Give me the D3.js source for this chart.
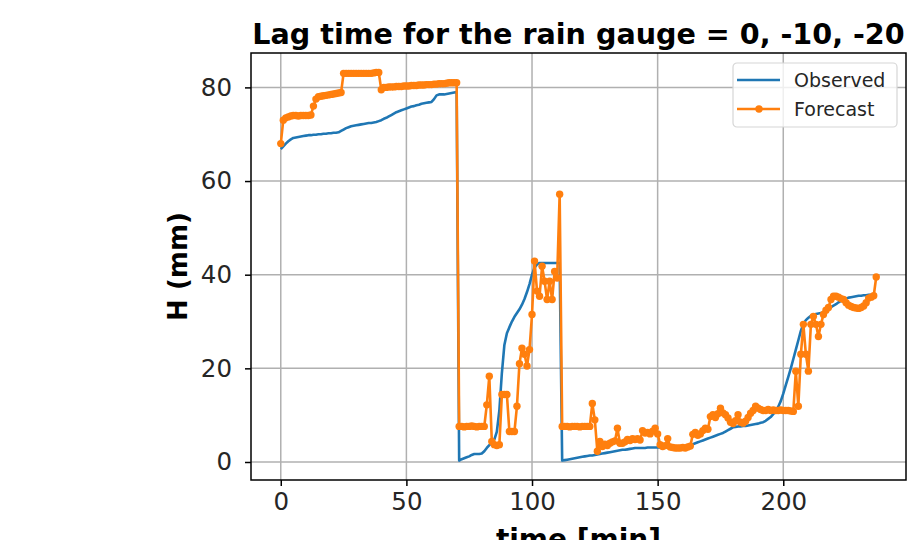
<!DOCTYPE html>
<html>
<head>
<meta charset="utf-8">
<script src="https://cdn.jsdelivr.net/npm/d3@7"></script>
<style>
  html, body { margin: 0; padding: 0; background: #fff; }
  svg { display: block; font-family: "DejaVu Sans", Verdana, sans-serif; }
</style>
</head>
<body>
<svg id="chart" width="909" height="540"></svg>
<script>
var title = 'Lag time for the rain gauge = 0, -10, -20';
var xLabel = 'time [min]';
var yLabel = 'H (mm)';
var seriesNames = ['Observed', 'Forecast'];
var xTicks = [0, 50, 100, 150, 200];
var yTicks = [0, 20, 40, 60, 80];

// one value per minute, t = 0 .. 237
var observed = [
  66.8, 67.4, 68.0, 68.5, 68.9, 69.2, 69.3, 69.4, 69.5, 69.6,
  69.7, 69.8, 69.8, 69.9, 69.9, 70.0, 70.0, 70.1, 70.1, 70.2,
  70.2, 70.3, 70.3, 70.4, 70.7, 71.0, 71.3, 71.5, 71.7, 71.8,
  71.9, 72.0, 72.1, 72.2, 72.3, 72.4, 72.4, 72.5, 72.6, 72.8,
  73.0, 73.3, 73.5, 73.8, 74.1, 74.4, 74.7, 74.9, 75.1, 75.3,
  75.5, 75.7, 75.9, 76.0, 76.2, 76.3, 76.5, 76.6, 76.7, 76.8,
  76.9, 77.5, 78.3, 78.5, 78.5, 78.5, 78.6, 78.7, 78.8, 78.9,
  79.0, 0.3, 0.6, 0.8, 1.0, 1.2, 1.5, 1.7, 1.7, 1.7,
  1.8, 2.3, 3.0, 3.6, 4.1, 4.8, 6.5, 11.0, 19.0, 25.0,
  27.5, 28.8, 30.0, 31.0, 31.8, 32.6, 33.6, 34.8, 36.3, 38.0,
  40.0, 41.5, 42.2, 42.5, 42.5, 42.5, 42.5, 42.5, 42.5, 42.5,
  42.5, 42.5, 0.3, 0.4, 0.5, 0.6, 0.7, 0.8, 0.9, 1.0,
  1.1, 1.2, 1.3, 1.4, 1.4, 1.5, 1.6, 1.7, 1.8, 1.9,
  2.0, 2.1, 2.2, 2.3, 2.4, 2.5, 2.6, 2.6, 2.7, 2.8,
  2.9, 3.0, 3.0, 3.0, 3.0, 3.0, 3.1, 3.1, 3.1, 3.1,
  3.1, 3.1, 3.1, 3.1, 3.1, 3.2, 3.2, 3.2, 3.2, 3.2,
  3.3, 3.3, 3.4, 3.6, 3.8, 4.0, 4.2, 4.4, 4.6, 4.8,
  5.0, 5.2, 5.4, 5.6, 5.8, 6.0, 6.2, 6.5, 6.8, 7.1,
  7.4, 7.5, 7.6, 7.6, 7.7, 7.7, 7.8, 7.9, 8.0, 8.1,
  8.2, 8.4, 8.5, 8.8, 9.2, 9.6, 10.2, 10.9, 11.8, 13.0,
  14.6, 16.4, 18.2, 20.0, 22.0, 24.0, 26.0, 28.0, 29.5, 30.3,
  30.8, 31.2, 31.5, 31.6, 31.7, 31.8, 31.9, 32.3, 32.7, 33.1,
  33.4, 33.7, 34.1, 34.4, 34.7, 34.9, 35.1, 35.2, 35.3, 35.4,
  35.5, 35.5, 35.6, 35.6, 35.7, 35.7, 35.8, 35.8
];

var forecast = [
  68.0, 73.0, 73.5, 73.7, 73.9, 74.0, 74.0, 73.9, 74.0, 74.0,
  74.0, 74.0, 74.1, 76.0, 77.5, 78.0, 78.1, 78.2, 78.3, 78.4,
  78.5, 78.6, 78.7, 78.8, 78.9, 83.0, 83.0, 83.0, 83.0, 83.0,
  83.0, 83.0, 83.0, 83.0, 83.0, 83.0, 83.0, 83.1, 83.2, 83.2,
  79.5, 80.0, 80.0, 80.1, 80.1, 80.1, 80.2, 80.2, 80.2, 80.3,
  80.3, 80.3, 80.4, 80.4, 80.4, 80.5, 80.5, 80.5, 80.6, 80.6,
  80.6, 80.7, 80.7, 80.8, 80.8, 80.8, 80.9, 81.0, 81.0, 81.0,
  81.0, 7.6, 7.6, 7.5, 7.6, 7.6, 7.7, 7.6, 7.5, 7.6,
  7.6, 7.6, 12.2, 18.3, 4.4, 3.7, 3.5, 3.7, 14.4, 14.4,
  14.4, 6.5, 6.5, 6.5, 11.9, 21.0, 24.3, 23.0, 20.5, 24.0,
  31.5, 42.9, 36.5, 35.4, 41.8, 38.6, 34.7, 38.6, 34.7, 40.7,
  39.3, 57.2, 7.6, 7.6, 7.6, 7.5, 7.6, 7.6, 7.6, 7.5,
  7.6, 7.6, 7.6, 7.6, 12.5, 9.0, 2.3, 4.4, 3.3, 3.8,
  3.5, 4.0, 4.3, 4.5, 7.2, 4.0, 4.0, 4.3, 4.8, 4.6,
  5.0, 4.8, 5.0, 4.7, 6.7, 6.2, 6.3, 6.0, 6.6, 7.2,
  6.0, 3.7, 3.3, 3.5, 5.0, 3.2, 3.1, 3.0, 3.0, 3.0,
  3.1, 3.0, 3.2, 3.4, 5.9, 6.3, 5.7, 6.0, 6.7, 7.2,
  7.0, 9.7, 10.1, 9.5, 10.3, 11.5, 10.5, 10.1, 9.4, 8.5,
  8.2, 8.8, 10.1, 8.5, 8.3, 8.7, 9.5, 10.4, 11.0, 11.9,
  11.5, 11.2, 11.0, 11.0, 11.2, 11.0, 11.1, 11.0, 11.0, 11.1,
  11.0, 11.0, 11.0, 10.9, 10.8, 19.4, 11.9, 23.0, 29.4, 23.0,
  19.4, 29.4, 31.1, 29.4, 26.8, 29.4, 31.5, 32.4, 33.0, 34.7,
  35.4, 35.4, 35.2, 34.9, 34.7, 34.0, 33.5, 33.2, 33.0, 32.9,
  32.8, 33.0, 33.3, 34.0, 35.0, 35.2, 35.5, 39.5
];

var colors = ['#1f77b4', '#ff7f0e'];

var svg = d3.select('#chart');
var margin = {left: 251, right: 3, top: 53, bottom: 60};
var width = 909 - margin.left - margin.right;
var height = 540 - margin.top - margin.bottom;

var time = d3.range(forecast.length);

// matplotlib-like 5% margins on the data range
function padded(ext) {
  var p = (ext[1] - ext[0]) * 0.05;
  return [ext[0] - p, ext[1] + p];
}

var xScale = d3.scaleLinear()
    .domain(padded(d3.extent(time)))
    .range([0, width]);

var yScale = d3.scaleLinear()
    .domain(padded(d3.extent(observed.concat(forecast))))
    .range([height, 0]);

var g = svg.append('g')
    .attr('transform', 'translate(' + margin.left + ',' + margin.top + ')');

// grid
g.append('g')
    .selectAll('line.vx')
    .data(xTicks)
  .enter().append('line')
    .attr('x1', d => xScale(d)).attr('x2', d => xScale(d))
    .attr('y1', 0).attr('y2', height)
    .attr('stroke', '#b0b0b0').attr('stroke-width', 1.5);

g.append('g')
    .selectAll('line.hy')
    .data(yTicks)
  .enter().append('line')
    .attr('y1', d => yScale(d)).attr('y2', d => yScale(d))
    .attr('x1', 0).attr('x2', width)
    .attr('stroke', '#b0b0b0').attr('stroke-width', 1.5);

var line = d3.line()
    .x((d, i) => xScale(i))
    .y(d => yScale(d));

g.append('path')
    .datum(observed)
    .attr('d', line)
    .attr('fill', 'none')
    .attr('stroke', colors[0])
    .attr('stroke-width', 2.6)
    .attr('stroke-linejoin', 'round');

g.append('path')
    .datum(forecast)
    .attr('d', line)
    .attr('fill', 'none')
    .attr('stroke', colors[1])
    .attr('stroke-width', 2.6)
    .attr('stroke-linejoin', 'round');

g.append('g')
    .selectAll('circle')
    .data(forecast)
  .enter().append('circle')
    .attr('cx', (d, i) => xScale(i))
    .attr('cy', d => yScale(d))
    .attr('r', 3.7)
    .attr('fill', colors[1]);

// axes
var xAxis = d3.axisBottom(xScale)
    .tickValues(xTicks)
    .tickSize(6)
    .tickPadding(7)
    .tickFormat(d3.format('d'));

var yAxis = d3.axisLeft(yScale)
    .tickValues(yTicks)
    .tickSize(6)
    .tickPadding(13)
    .tickFormat(d3.format('d'));

var gx = g.append('g')
    .attr('transform', 'translate(0,' + height + ')')
    .call(xAxis);
var gy = g.append('g').call(yAxis);

[gx, gy].forEach(function(a) {
  a.select('.domain').remove();
  a.selectAll('.tick line').attr('stroke', '#000').attr('stroke-width', 1.5);
  a.selectAll('.tick text')
    .attr('fill', '#262626')
    .style('font-size', '24.5px')
    .style('font-family', '"DejaVu Sans", sans-serif');
});

g.append('rect')
    .attr('x', 0).attr('y', 0)
    .attr('width', width).attr('height', height)
    .attr('fill', 'none')
    .attr('stroke', '#000')
    .attr('stroke-width', 1.5);

// title and labels
svg.append('text')
    .attr('x', margin.left + width / 2)
    .attr('y', 44)
    .attr('text-anchor', 'middle')
    .style('font-size', '28.6px')
    .style('font-weight', 'bold')
    .text(title);

svg.append('text')
    .attr('x', margin.left + width / 2)
    .attr('y', 549)
    .attr('text-anchor', 'middle')
    .style('font-size', '28px')
    .style('font-weight', 'bold')
    .text(xLabel);

svg.append('text')
    .attr('transform', 'translate(187,' + (margin.top + height / 2) + ') rotate(-90)')
    .attr('text-anchor', 'middle')
    .style('font-size', '26px')
    .style('font-weight', 'bold')
    .text(yLabel);

// legend
var lg = svg.append('g').attr('transform', 'translate(733,63)');
lg.append('rect')
    .attr('width', 164).attr('height', 64)
    .attr('rx', 4)
    .attr('fill', 'rgba(255,255,255,0.8)')
    .attr('stroke', '#d6d6d6')
    .attr('stroke-width', 1.2);

seriesNames.forEach(function(name, i) {
  var yy = 17 + i * 29;
  lg.append('line')
      .attr('x1', 4).attr('x2', 47)
      .attr('y1', yy).attr('y2', yy)
      .attr('stroke', colors[i])
      .attr('stroke-width', 2.6);
  if (i === 1) {
    lg.append('circle')
        .attr('cx', 26).attr('cy', yy).attr('r', 3.7)
        .attr('fill', colors[i]);
  }
  lg.append('text')
      .attr('x', 61).attr('y', yy + 7)
      .attr('fill', '#262626')
      .style('font-size', '19px')
      .text(name);
});
</script>
</body>
</html>
